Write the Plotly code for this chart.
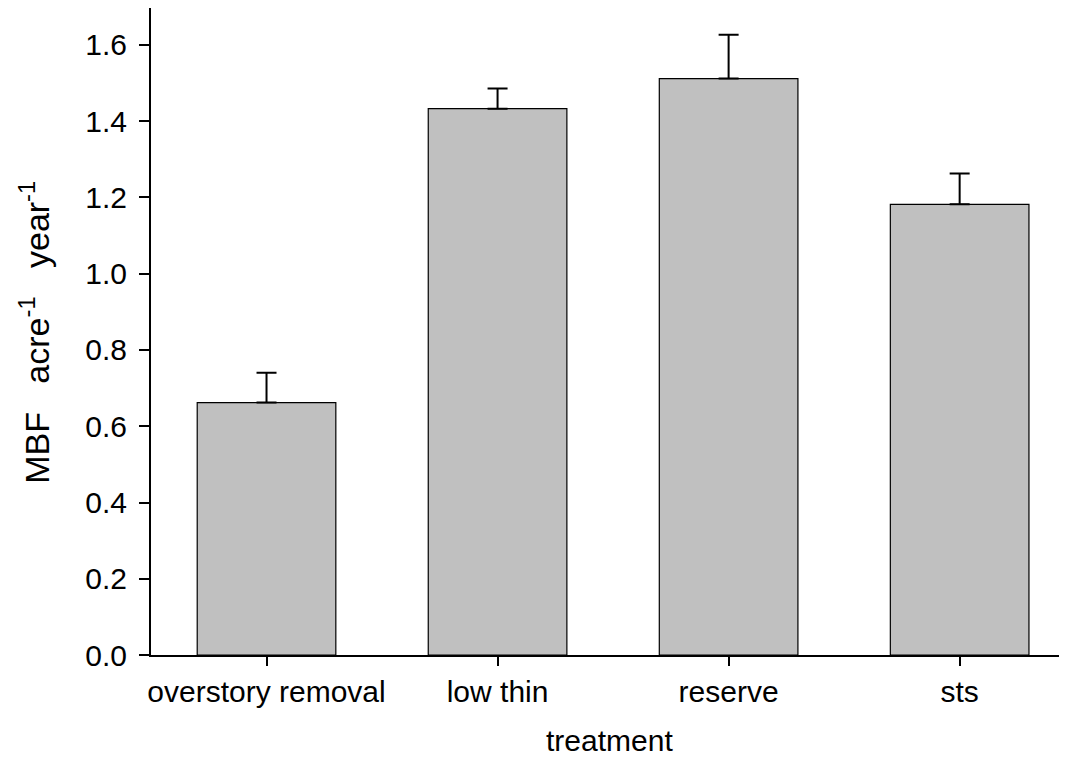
import plotly.graph_objects as go

categories = ["overstory removal", "low thin", "reserve", "sts"]
values = [0.662, 1.433, 1.512, 1.182]
errors_up = [0.078, 0.053, 0.115, 0.081]
errors_down = [0, 0, 0, 0]
y_ticks = [0.0, 0.2, 0.4, 0.6, 0.8, 1.0, 1.2, 1.4, 1.6]

FONT = "Liberation Sans, Arial, sans-serif"

fig = go.Figure()
fig.add_trace(go.Bar(
    x=categories,
    y=values,
    marker=dict(color="#C0C0C0", line=dict(color="#000000", width=1.2)),
    error_y=dict(type="data", array=errors_up, arrayminus=errors_down,
                 symmetric=False, color="#000000", thickness=2, width=10),
    width=0.6,
))

# page body adds an 8px offset, so the figure is sized to compensate
fig.update_layout(
    width=1051, height=755,
    margin=dict(l=143, r=0, t=0, b=108),
    paper_bgcolor="white", plot_bgcolor="white",
    showlegend=False,
    font=dict(family=FONT, color="#000000"),
    xaxis=dict(
        range=[-0.5, 3.43],
        automargin=False,
        showline=True, linewidth=2, linecolor="#000000",
        ticks="outside", ticklen=9, tickwidth=2, tickcolor="#000000",
        tickfont=dict(size=30),
        showgrid=False, zeroline=False,
    ),
    yaxis=dict(
        range=[0, 1.697],
        automargin=False,
        tickvals=y_ticks,
        ticktext=[f"{v:.1f}" for v in y_ticks],
        showline=True, linewidth=2, linecolor="#000000",
        ticks="outside", ticklen=10, tickwidth=2, tickcolor="#000000",
        tickfont=dict(size=30),
        ticklabelstandoff=6,
        showgrid=False, zeroline=False,
    ),
    annotations=[
        dict(text="treatment", xref="paper", yref="paper",
             x=(609 - 151) / 908, y=-0.1314, xanchor="center", yanchor="middle",
             showarrow=False, font=dict(size=30)),
        dict(text="MBF\u00a0\u00a0 acre<sup>-1</sup>\u00a0\u00a0 year<sup>-1</sup>",
             xref="paper", yref="paper", x=-116 / 908, y=0.498,
             xanchor="center", yanchor="middle", textangle=-90,
             showarrow=False, font=dict(size=34)),
    ],
)

fig.write_html("out.html")
